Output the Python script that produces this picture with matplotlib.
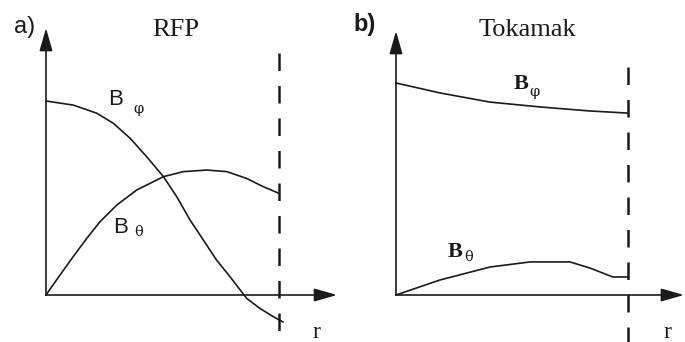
import matplotlib
matplotlib.use("Agg")
import matplotlib.pyplot as plt

# radius is normalised to the wall (r = 1 on the dashed line),
# fields are normalised to the on-axis toroidal field of each panel

# RFP
rfp_r_phi = [0.0, 0.117, 0.218, 0.289, 0.361, 0.432, 0.504, 0.561, 0.618,
             0.675, 0.732, 0.790, 0.861, 0.918, 0.976, 1.017]
rfp_b_phi = [1.0, 0.979, 0.937, 0.885, 0.808, 0.713, 0.610, 0.507, 0.387,
             0.284, 0.180, 0.094, -0.017, -0.069, -0.112, -0.139]
rfp_r_theta = [0.0, 0.06, 0.117, 0.175, 0.232, 0.304, 0.389, 0.504, 0.590,
               0.690, 0.776, 0.861, 0.933, 1.0]
rfp_b_theta = [0.0, 0.103, 0.198, 0.292, 0.378, 0.464, 0.541, 0.610, 0.636,
               0.644, 0.636, 0.601, 0.558, 0.524]

# Tokamak
tok_r_phi = [0.0, 0.19, 0.405, 0.621, 0.836, 1.0]
tok_b_phi = [1.0, 0.953, 0.91, 0.887, 0.868, 0.858]
tok_r_theta = [0.0, 0.19, 0.405, 0.578, 0.75, 0.836, 0.935, 1.0]
tok_b_theta = [0.0, 0.071, 0.132, 0.156, 0.156, 0.127, 0.085, 0.085]

panel_letters = ["a)", "b)"]
panel_titles = ["RFP", "Tokamak"]
axis_label = "r"

ink = "#1a1a1a"
W, H = 685, 342
fig = plt.figure(figsize=(W / 100, H / 100), dpi=100)
fig.patch.set_facecolor("white")


def make_axes(x0, x1, ox, oy, sx, sy):
    # ox, oy: pixel position of the origin, sx, sy: pixels per unit
    ax = fig.add_axes([x0 / W, 0, (x1 - x0) / W, 1])
    ax.set_xlim((x0 - ox) / sx, (x1 - ox) / sx)
    ax.set_ylim((oy - H) / sy, oy / sy)
    ax.axis("off")
    return ax


def draw_axes(ax, xtip, ytip, dash_top):
    arrow = dict(arrowstyle="-|>,head_length=0.7,head_width=0.2",
                 lw=1.2, color=ink, mutation_scale=20, shrinkA=0, shrinkB=0)
    ax.annotate("", xy=(xtip, 0), xytext=(0, 0), arrowprops=arrow)
    ax.annotate("", xy=(0, ytip), xytext=(0, 0), arrowprops=arrow)
    ax.plot([1, 1], [dash_top, ax.get_ylim()[0]], color=ink, lw=1.8,
            ls=(0, (7, 6)), solid_capstyle="butt")


def field_label(ax, x, y, sub, sx, sy, bold=False):
    fam = "Liberation Serif" if bold else "Liberation Sans"
    w = "bold" if bold else "normal"
    ax.text(x, y, "B", fontsize=16, family=fam, weight=w, color=ink,
            ha="left", va="baseline")
    ax.text(sx, sy, sub, fontsize=10.5, family="DejaVu Serif", color=ink,
            ha="center", va="center")


# a) RFP
ax1 = make_axes(0, 342.5, 46, 295, 233, 194)
draw_axes(ax1, 1.249, 1.376, 1.247)
ax1.plot(rfp_r_phi, rfp_b_phi, color=ink, lw=1.2, solid_joinstyle="round")
ax1.plot(rfp_r_theta, rfp_b_theta, color=ink, lw=1.2, solid_joinstyle="round")
ax1.text(-0.094, 1.381, panel_letters[0], fontsize=17, family="Liberation Sans",
         color=ink, ha="center", va="center")
ax1.text(0.558, 1.366, panel_titles[0], fontsize=19, family="Liberation Serif",
         color=ink, ha="center", va="center")
field_label(ax1, 0.266, 0.979, "φ", 0.395, 0.958)
field_label(ax1, 0.288, 0.32, "θ", 0.399, 0.325)
ax1.text(1.159, -0.191, axis_label, fontsize=17, family="Liberation Serif",
         color=ink, ha="center", va="center")

# b) Tokamak
ax2 = make_axes(342.5, 685, 396, 295, 232, 212)
draw_axes(ax2, 1.241, 1.245, 1.075)
ax2.plot(tok_r_phi, tok_b_phi, color=ink, lw=1.2, solid_joinstyle="round")
ax2.plot(tok_r_theta, tok_b_theta, color=ink, lw=1.2, solid_joinstyle="round")
ax2.text(-0.134, 1.278, panel_letters[1], fontsize=17, family="Liberation Sans",
         weight="bold", color=ink, ha="center", va="center")
ax2.text(0.565, 1.25, panel_titles[1], fontsize=19, family="Liberation Serif",
         color=ink, ha="center", va="center")
field_label(ax2, 0.509, 0.972, "φ", 0.599, 0.958, bold=True)
field_label(ax2, 0.224, 0.179, "θ", 0.315, 0.179, bold=True)
ax2.text(1.172, -0.175, axis_label, fontsize=17, family="Liberation Serif",
         color=ink, ha="center", va="center")

fig.savefig("out.png", dpi=100, facecolor="white")
